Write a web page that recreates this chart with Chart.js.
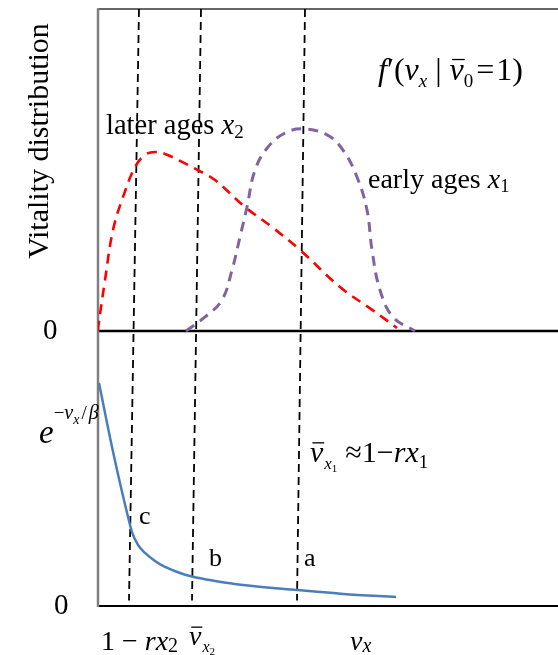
<!DOCTYPE html>
<html>
<head>
<meta charset="utf-8">
<script src="https://cdn.jsdelivr.net/npm/chart.js@4.4.1/dist/chart.umd.min.js"></script>
<style>
  html, body { margin: 0; padding: 0; background: #fff; }
  canvas { display: block; }
</style>
</head>
<body>
<canvas id="vitality" width="558" height="655"></canvas>
<script>
// Upper panel: vitality distributions (v in x-units, density in y-units)
const laterX = [0, 0.001, 0.028, 0.060, 0.100, 0.148, 0.188, 0.228, 0.268, 0.336, 0.400, 0.468, 0.588, 0.696, 0.808, 0.968, 1.100, 1.196];
const laterY = [0, 0.015, 0.185, 0.367, 0.487, 0.596, 0.640, 0.651, 0.644, 0.615, 0.585, 0.549, 0.451, 0.378, 0.295, 0.160, 0.075, 0.011];

const earlyX = [0.352, 0.428, 0.496, 0.536, 0.568, 0.596, 0.628, 0.680, 0.748, 0.820, 0.916, 0.980, 1.036, 1.076, 1.096, 1.128, 1.180, 1.268];
const earlyY = [0, 0.051, 0.113, 0.222, 0.342, 0.451, 0.585, 0.669, 0.720, 0.735, 0.713, 0.658, 0.560, 0.440, 0.295, 0.149, 0.051, 0];

// Lower panel: mortality weight e^{-v/beta}, 0..1 within the panel
const decayX = [0.004, 0.056, 0.120, 0.136, 0.160, 0.188, 0.228, 0.268, 0.328, 0.376, 0.468, 0.580, 0.796, 0.980, 1.192];
const decayY = [0.811, 0.578, 0.324, 0.269, 0.222, 0.193, 0.164, 0.142, 0.120, 0.107, 0.091, 0.076, 0.058, 0.044, 0.033];

// Vertical guides c, b, a (slightly slanted: top and bottom x)
const guideNames = ['c', 'b', 'a'];
const guideTopX = [0.164, 0.412, 0.828];
const guideBottomX = [0.124, 0.376, 0.796];

const X_MAX = 1.84;
const Y_TOP = 1.171;   // upper panel height in density units
const Y_LOW = -1;      // lower panel spans -1..0

const SERIF = '"Liberation Serif", "Times New Roman", serif';

function toPoints(xs, ys, shift) {
    return xs.map((x, i) => ({ x: x, y: ys[i] + (shift || 0) }));
}

// Draw a run of mixed italic / sub / superscript text
function drawRich(ctx, x, y, runs) {
    runs.forEach(r => {
        ctx.font = (r.i ? 'italic ' : '') + r.size + 'px ' + SERIF;
        const w = ctx.measureText(r.t).width;
        ctx.fillText(r.t, x, y + (r.dy || 0));
        if (r.bar) {
            ctx.fillRect(x + r.size * 0.08, y + (r.dy || 0) - r.size * 0.66, w - r.size * 0.05, 1.3);
        }
        x += w + (r.gap || 0);
    });
}

const guideSets = guideNames.map((name, i) => ({
    label: name,
    data: [{ x: guideTopX[i], y: Y_TOP }, { x: guideBottomX[i], y: Y_LOW + 0.02 }],
    borderColor: '#000',
    borderWidth: 1.8,
    borderDash: [8, 5],
    pointRadius: 0,
    tension: 0
}));

const framePlugin = {
    id: 'frame',
    beforeDatasetsDraw(chart) {
        const ctx = chart.ctx;
        const a = chart.chartArea;
        const y0 = chart.scales.y.getPixelForValue(0);
        ctx.save();
        ctx.strokeStyle = '#333';
        ctx.lineWidth = 1.5;
        ctx.beginPath();
        ctx.moveTo(a.left, a.top);
        ctx.lineTo(a.right, a.top);
        ctx.stroke();
        ctx.strokeStyle = '#000';
        ctx.lineWidth = 2;
        ctx.beginPath();
        ctx.moveTo(a.left, a.bottom);
        ctx.lineTo(a.right, a.bottom);
        ctx.stroke();
        ctx.lineWidth = 2.6;
        ctx.beginPath();
        ctx.moveTo(a.left, y0);
        ctx.lineTo(a.right, y0);
        ctx.stroke();
        ctx.strokeStyle = '#7f7f7f';
        ctx.lineWidth = 2.5;
        ctx.beginPath();
        ctx.moveTo(a.left, a.top - 0.7);
        ctx.lineTo(a.left, a.bottom + 1);
        ctx.stroke();
        ctx.restore();
    },
    afterDraw(chart) {
        const ctx = chart.ctx;
        ctx.save();
        ctx.fillStyle = '#000';
        ctx.textBaseline = 'alphabetic';

        // y-axis title
        ctx.save();
        ctx.translate(48, 141);
        ctx.rotate(-Math.PI / 2);
        ctx.font = '30px ' + SERIF;
        ctx.textAlign = 'center';
        ctx.fillText('Vitality distribution', 0, 0);
        ctx.restore();

        ctx.textAlign = 'left';
        ctx.font = '29px ' + SERIF;
        ctx.fillText('0', 43, 339);
        ctx.fillText('0', 54, 614);

        // e^{-v_x/beta}
        drawRich(ctx, 39, 443, [
            { t: 'e', i: true, size: 33 },
            { t: '\u2212', size: 19, dy: -24 },
            { t: 'v', i: true, size: 20, dy: -24 },
            { t: 'x', i: true, size: 14, dy: -19, gap: 2 },
            { t: '/', size: 19, dy: -24, gap: 2 },
            { t: '\u03b2', i: true, size: 20, dy: -24 }
        ]);

        drawRich(ctx, 106, 134, [
            { t: 'later ages ', size: 28.5 },
            { t: 'x', i: true, size: 28.5 },
            { t: '2', size: 19, dy: 4 }
        ]);
        drawRich(ctx, 368, 188, [
            { t: 'early ages ', size: 28 },
            { t: 'x', i: true, size: 28 },
            { t: '1', size: 18.5, dy: 4 }
        ]);

        drawRich(ctx, 378, 80, [
            { t: 'f', i: true, size: 32 },
            { t: '\u2032(', size: 32 },
            { t: 'v', i: true, size: 32 },
            { t: 'x', i: true, size: 19, dy: 7 },
            { t: ' | ', size: 32 },
            { t: 'v', i: true, size: 32, bar: true },
            { t: '0', size: 19, dy: 7, gap: 3 },
            { t: '=', size: 32, gap: 2 },
            { t: '1)', size: 32 }
        ]);

        drawRich(ctx, 310, 462, [
            { t: 'v', i: true, size: 30, bar: true, gap: 1 },
            { t: 'x', i: true, size: 17, dy: 7 },
            { t: '1', size: 11, dy: 10, gap: 8 },
            { t: '\u2248', size: 30 },
            { t: '1\u2212', size: 30 },
            { t: 'rx', i: true, size: 30 },
            { t: '1', size: 19, dy: 6 }
        ]);

        ctx.font = '26px ' + SERIF;
        ctx.fillText(guideNames[0], 139, 524);
        ctx.fillText(guideNames[1], 209, 566);
        ctx.fillText(guideNames[2], 304, 566);

        // x-axis annotations
        drawRich(ctx, 101, 650, [
            { t: '1 \u2212 ', size: 28 },
            { t: 'rx', i: true, size: 28 },
            { t: '2', size: 20, dy: 2 }
        ]);
        drawRich(ctx, 189, 645, [
            { t: 'v', i: true, size: 28, bar: true, gap: 1 },
            { t: 'x', i: true, size: 16, dy: 7 },
            { t: '2', size: 11, dy: 10 }
        ]);
        drawRich(ctx, 350, 650, [
            { t: 'v', i: true, size: 28 },
            { t: 'x', i: true, size: 20, dy: 2 }
        ]);
        ctx.restore();
    }
};

new Chart(document.getElementById('vitality').getContext('2d'), {
    type: 'line',
    data: {
        datasets: [
            {
                label: 'later ages',
                data: toPoints(laterX, laterY),
                borderColor: '#ff0000',
                borderWidth: 2.6,
                borderDash: [10, 7],
                pointRadius: 0,
                tension: 0.4
            },
            {
                label: 'early ages',
                data: toPoints(earlyX, earlyY),
                borderColor: '#8064a2',
                borderWidth: 3,
                borderDash: [10, 7],
                pointRadius: 0,
                tension: 0.4
            },
            {
                label: 'e^(-v/beta)',
                data: toPoints(decayX, decayY, Y_LOW),
                borderColor: '#4a7ebb',
                borderWidth: 2.5,
                pointRadius: 0,
                cubicInterpolationMode: 'monotone'
            }
        ].concat(guideSets)
    },
    options: {
        responsive: false,
        animation: false,
        layout: { padding: { left: 98, right: 0, top: 9, bottom: 49 } },
        plugins: { legend: { display: false }, tooltip: { enabled: false } },
        scales: {
            x: { type: 'linear', min: 0, max: X_MAX, display: false },
            y: { type: 'linear', min: Y_LOW, max: Y_TOP, display: false }
        }
    },
    plugins: [framePlugin]
});
</script>
</body>
</html>
